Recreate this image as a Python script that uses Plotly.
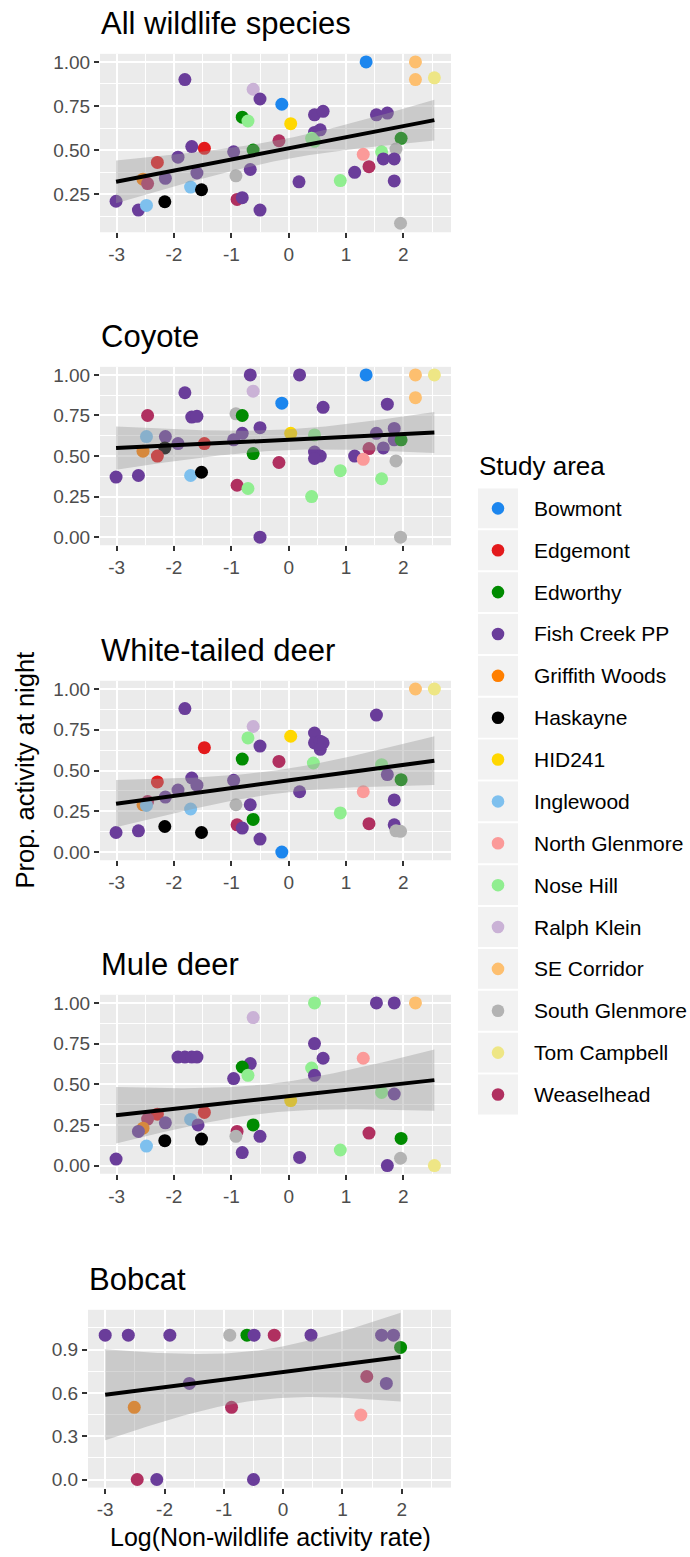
import numpy as np
import plotly.graph_objects as go

# ---------------- data ----------------
site_codes = ["Bow", "Edg", "Edw", "FC", "GW", "Hask", "HID", "Ing", "NG", "NH",
              "RK", "SE", "SG", "TC", "Wea"]
site_names = ["Bowmont", "Edgemont", "Edworthy", "Fish Creek PP", "Griffith Woods",
              "Haskayne", "HID241", "Inglewood", "North Glenmore", "Nose Hill",
              "Ralph Klein", "SE Corridor", "South Glenmore", "Tom Campbell", "Weaselhead"]
site_colors = ["#1C86EE", "#E31A1C", "#008B00", "#6A3D9A", "#FF7F00",
               "#000000", "#FFD700", "#7EC0EE", "#FB9A99", "#90EE90",
               "#CAB2D6", "#FDBF6F", "#B3B3B3", "#EEE685", "#B03060"]

panel_titles = ["All wildlife species", "Coyote", "White-tailed deer", "Mule deer", "Bobcat"]

# All wildlife species
all_x = [-1.81, -0.62, -0.50, -0.12, -0.81, -0.71, 0.035, -1.69, -1.47, -1.93,
         -2.29, -0.96, -0.62, -0.17, -0.67, -0.92, -1.60, -2.15, -2.54, -2.46,
         -1.71, -1.52, 0.18, -3.01, -2.62, -2.48, -2.16, -0.90, -0.81, -0.50,
         1.35, 2.21, 2.21, 2.54, 0.45, 0.60, 1.53, 1.72, 0.45, 0.55,
         0.40, 0.45, 1.96, 1.87, 1.30, 1.62, 1.65, 1.84, 1.40, 1.15,
         0.90, 1.84, 1.95]
all_y = [0.90, 0.845, 0.79, 0.76, 0.687, 0.665, 0.65, 0.52, 0.51, 0.46,
         0.43, 0.49, 0.50, 0.553, 0.39, 0.354, 0.37, 0.34, 0.335, 0.31,
         0.29, 0.275, 0.32, 0.21, 0.16, 0.186, 0.207, 0.22, 0.23, 0.16,
         1.00, 1.00, 0.90, 0.91, 0.70, 0.72, 0.70, 0.71, 0.60, 0.615,
         0.567, 0.55, 0.567, 0.506, 0.476, 0.49, 0.45, 0.45, 0.406, 0.374,
         0.327, 0.325, 0.085]
all_site = ["FC", "RK", "FC", "Bow", "Edw", "NH", "HID", "FC", "Edg", "FC",
            "Edg", "FC", "Edw", "Wea", "FC", "SG", "FC", "FC", "GW", "Wea",
            "Ing", "Hask", "FC", "FC", "FC", "Ing", "Hask", "Wea", "FC", "FC",
            "Bow", "SE", "SE", "TC", "FC", "FC", "FC", "FC", "FC", "FC",
            "NH", "NH", "Edw", "SG", "NG", "NH", "FC", "FC", "Wea", "FC",
            "NH", "FC", "SG"]

# Coyote
coy_x = [-0.67, 0.19, -1.81, -0.62, -0.12, -2.46, -1.69, -1.60, -0.92, -0.81,
         -0.50, -2.48, -2.15, -1.93, -2.16, -0.96, -0.81, -1.47, 0.035, -2.54,
         -2.29, -0.62, -0.17, -3.01, -2.62, -1.71, -1.52, -0.90, -0.71, -0.50,
         1.35, 2.21, 2.54, 2.21, 0.60, 1.72, 0.45, 1.53, 1.84, 1.84,
         1.96, 0.45, 0.55, 0.45, 1.15, 1.40, 1.30, 1.65, 1.87, 0.90,
         1.62, 0.40, 1.95]
coy_y = [1.00, 1.00, 0.89, 0.90, 0.826, 0.75, 0.74, 0.745, 0.76, 0.75,
         0.675, 0.62, 0.62, 0.577, 0.55, 0.60, 0.64, 0.577, 0.64, 0.53,
         0.50, 0.515, 0.46, 0.37, 0.38, 0.38, 0.40, 0.32, 0.30, 0.00,
         1.00, 1.00, 1.00, 0.86, 0.80, 0.82, 0.63, 0.64, 0.67, 0.60,
         0.60, 0.525, 0.50, 0.485, 0.50, 0.546, 0.48, 0.55, 0.47, 0.41,
         0.36, 0.25, 0.00]
coy_site = ["FC", "FC", "FC", "RK", "Bow", "Wea", "FC", "FC", "SG", "Edw",
            "FC", "Ing", "FC", "FC", "Hask", "FC", "FC", "Edg", "HID", "GW",
            "Edg", "Edw", "Wea", "FC", "FC", "Ing", "Hask", "Wea", "NH", "FC",
            "Bow", "SE", "TC", "SE", "FC", "FC", "NH", "FC", "FC", "FC",
            "Edw", "FC", "FC", "FC", "FC", "Wea", "NG", "FC", "SG", "NH",
            "NH", "NH", "SG"]

# White-tailed deer
wtd_x = [-1.81, -0.62, -0.71, -0.50, 0.035, -1.47, -0.81, -0.17, -2.29, -1.69,
         -1.60, -1.93, -2.15, -0.96, -2.46, -2.54, -2.48, -1.71, -0.92, -0.67,
         -0.62, -2.16, -0.90, -0.81, -3.01, -2.62, -1.52, -0.50, -0.12, 2.21,
         2.54, 1.53, 0.45, 0.45, 0.55, 0.60, 0.55, 0.43, 1.62, 1.72,
         1.96, 0.19, 1.30, 1.84, 0.90, 1.40, 1.84, 1.87, 1.95]
wtd_y = [0.88, 0.77, 0.70, 0.65, 0.71, 0.64, 0.57, 0.556, 0.43, 0.454,
         0.41, 0.38, 0.337, 0.44, 0.31, 0.29, 0.286, 0.264, 0.29, 0.29,
         0.20, 0.157, 0.167, 0.147, 0.12, 0.13, 0.12, 0.08, 0.00, 1.00,
         1.00, 0.84, 0.73, 0.67, 0.68, 0.67, 0.63, 0.546, 0.536, 0.475,
         0.444, 0.37, 0.37, 0.32, 0.24, 0.174, 0.167, 0.13, 0.127]
wtd_site = ["FC", "RK", "NH", "FC", "HID", "Edg", "Edw", "Wea", "Edg", "FC",
            "FC", "FC", "FC", "FC", "Wea", "GW", "Ing", "Ing", "SG", "FC",
            "Edw", "Hask", "Wea", "FC", "FC", "FC", "Hask", "FC", "Bow", "SE",
            "TC", "FC", "FC", "FC", "FC", "FC", "FC", "NH", "NH", "FC",
            "Edw", "FC", "NG", "FC", "NH", "Wea", "FC", "SG", "SG"]

# Mule deer
mule_x = [-0.62, -1.93, -1.81, -1.69, -1.60, -0.67, -0.81, -0.71, -0.96, 0.035,
          -1.47, -2.29, -2.46, -1.71, -2.15, -1.58, -0.62, -2.54, -2.62, -0.90,
          -0.92, -0.50, -2.16, -1.52, -2.48, -3.01, -0.81, 0.45, 1.53, 1.84,
          2.21, 0.45, 0.60, 1.30, 0.40, 0.45, 1.62, 1.84, 1.40, 1.96,
          0.90, 0.19, 1.95, 1.72, 2.54]
mule_y = [0.91, 0.667, 0.667, 0.667, 0.667, 0.627, 0.606, 0.555, 0.535, 0.40,
          0.327, 0.316, 0.286, 0.284, 0.263, 0.25, 0.25, 0.23, 0.21, 0.21,
          0.18, 0.18, 0.153, 0.163, 0.12, 0.04, 0.08, 1.00, 1.00, 1.00,
          1.00, 0.75, 0.66, 0.66, 0.60, 0.555, 0.45, 0.44, 0.20, 0.167,
          0.096, 0.05, 0.045, 0.00, 0.00]
mule_site = ["RK", "FC", "FC", "FC", "FC", "FC", "Edw", "NH", "FC", "HID",
             "Edg", "Edg", "Wea", "Ing", "FC", "FC", "Edw", "GW", "FC", "Wea",
             "SG", "FC", "Hask", "Hask", "Ing", "FC", "FC", "NH", "FC", "FC",
             "SE", "FC", "FC", "NG", "NH", "FC", "NH", "FC", "Wea", "Edw",
             "NH", "FC", "SG", "FC", "TC"]

# Bobcat
bob_x = [-3.00, -2.61, -1.91, -0.90, -0.61, -0.49, -0.15, 0.47, 1.66, 1.86,
         1.98, 1.41, 1.74, -1.58, -2.51, -0.87, 1.31, -2.46, -2.13, -0.50]
bob_y = [1.00, 1.00, 1.00, 1.00, 1.00, 1.00, 1.00, 1.00, 1.00, 1.00,
         0.915, 0.714, 0.666, 0.666, 0.50, 0.50, 0.447, 0.00, 0.00, 0.00]
bob_site = ["FC", "FC", "FC", "SG", "Edw", "FC", "Wea", "FC", "FC", "FC",
            "Edw", "Wea", "FC", "FC", "GW", "Wea", "NG", "Wea", "FC", "FC"]

panel_data = [(all_x, all_y, all_site), (coy_x, coy_y, coy_site),
              (wtd_x, wtd_y, wtd_site), (mule_x, mule_y, mule_site),
              (bob_x, bob_y, bob_site)]

x_ticks = [-3, -2, -1, 0, 1, 2]
x_ticklabels = ["-3", "-2", "-1", "0", "1", "2"]
x_minor = [-2.5, -1.5, -0.5, 0.5, 1.5, 2.5]
y_ticks = [[0.25, 0.5, 0.75, 1.0], [0, 0.25, 0.5, 0.75, 1.0], [0, 0.25, 0.5, 0.75, 1.0],
           [0, 0.25, 0.5, 0.75, 1.0], [0, 0.3, 0.6, 0.9]]
y_ticklabels = [["0.25", "0.50", "0.75", "1.00"],
                ["0.00", "0.25", "0.50", "0.75", "1.00"],
                ["0.00", "0.25", "0.50", "0.75", "1.00"],
                ["0.00", "0.25", "0.50", "0.75", "1.00"],
                ["0.0", "0.3", "0.6", "0.9"]]
y_minor = [[0.125, 0.375, 0.625, 0.875], [0.125, 0.375, 0.625, 0.875],
           [0.125, 0.375, 0.625, 0.875], [0.125, 0.375, 0.625, 0.875],
           [0.15, 0.45, 0.75, 1.05]]

# ---------------- layout constants (pixels) ----------------
W, H = 690, 1557
RIGHT = 451
panel_left = [100, 100, 100, 100, 88]
panel_top = [52, 366, 681, 996, 1312]
panel_bot = [231, 545, 861, 1175.5, 1490.4]
y_ranges = [[0.034, 1.046], [-0.05, 1.05], [-0.05, 1.05], [-0.05, 1.05], [-0.056, 1.176]]
X_RANGE = [-3.29, 2.83]

FONT = "Liberation Sans, Arial, sans-serif"
TICK_FONT = dict(family=FONT, size=19, color="#4D4D4D")


def px_x(p):
    return p / W


def px_y(p):
    return 1 - p / H


def t_quantile(df, z=1.959964):
    g1 = (z ** 3 + z) / 4
    g2 = (5 * z ** 5 + 16 * z ** 3 + 3 * z) / 96
    g3 = (3 * z ** 7 + 19 * z ** 5 + 17 * z ** 3 - 15 * z) / 384
    return z + g1 / df + g2 / df ** 2 + g3 / df ** 3


def lm_fit(x, y):
    x = np.asarray(x, float)
    y = np.asarray(y, float)
    n = len(x)
    b, a = np.polyfit(x, y, 1)
    resid = y - (a + b * x)
    s = np.sqrt(np.sum(resid ** 2) / (n - 2))
    xm = x.mean()
    sxx = np.sum((x - xm) ** 2)
    xs = np.linspace(x.min(), x.max(), 80)
    yh = a + b * xs
    se = s * np.sqrt(1 / n + (xs - xm) ** 2 / sxx)
    t = t_quantile(n - 2)
    return xs, yh, yh - t * se, yh + t * se


color_of = dict(zip(site_codes, site_colors))

fig = go.Figure()
annotations = []
shapes = []

for i, (px, py, ps) in enumerate(panel_data):
    assert len(px) == len(py) == len(ps), (i, len(px), len(py), len(ps))
    suf = "" if i == 0 else str(i + 1)
    xref, yref = "x" + suf, "y" + suf

    fig.add_trace(go.Scatter(
        x=px, y=py, mode="markers", xaxis=xref, yaxis=yref,
        marker=dict(size=13, color=[color_of[s] for s in ps], line=dict(width=0)),
        showlegend=False, hoverinfo="skip"))

    xs, yh, lo, hi = lm_fit(px, py)
    fig.add_trace(go.Scatter(
        x=np.concatenate([xs, xs[::-1]]), y=np.concatenate([hi, lo[::-1]]),
        mode="lines", fill="toself", fillcolor="rgba(153,153,153,0.4)",
        line=dict(width=0), xaxis=xref, yaxis=yref, showlegend=False, hoverinfo="skip"))
    fig.add_trace(go.Scatter(
        x=xs, y=yh, mode="lines", line=dict(color="black", width=4),
        xaxis=xref, yaxis=yref, showlegend=False, hoverinfo="skip"))

    common = dict(ticks="outside", ticklen=5, tickwidth=1.5, tickcolor="#333333",
                  showgrid=True, gridcolor="white", gridwidth=2, zeroline=False,
                  showline=False, tickfont=TICK_FONT, tickmode="array")
    fig.update_layout({
        "xaxis" + suf: dict(domain=[px_x(panel_left[i]), px_x(RIGHT)], range=X_RANGE,
                            anchor=yref, tickvals=x_ticks, ticktext=x_ticklabels,
                            minor=dict(tickmode="array", tickvals=x_minor, showgrid=True,
                                       gridcolor="white", gridwidth=1, ticks=""),
                            **common),
        "yaxis" + suf: dict(domain=[px_y(panel_bot[i]), px_y(panel_top[i])], range=y_ranges[i],
                            anchor=xref, tickvals=y_ticks[i], ticktext=y_ticklabels[i],
                            minor=dict(tickmode="array", tickvals=y_minor[i], showgrid=True,
                                       gridcolor="white", gridwidth=1, ticks=""),
                            **common),
    })

    annotations.append(dict(
        text=panel_titles[i], xref="paper", yref="paper", x=px_x(panel_left[i] - 1),
        y=px_y(panel_top[i] - 11), xanchor="left", yanchor="bottom", showarrow=False,
        font=dict(family=FONT, size=31, color="black")))

# axis titles
annotations.append(dict(text="Prop. activity at night", xref="paper", yref="paper",
                        x=px_x(25), y=px_y(771), xanchor="center", yanchor="middle",
                        textangle=-90, showarrow=False,
                        font=dict(family=FONT, size=25.5, color="black")))
annotations.append(dict(text="Log(Non-wildlife activity rate)", xref="paper", yref="paper",
                        x=px_x(270), y=px_y(1556), xanchor="center", yanchor="bottom",
                        showarrow=False, font=dict(family=FONT, size=25, color="black")))

# legend (manual, ggplot style keys)
LEG_X, LEG_TOP, KEY, PITCH = 478, 488, 40, 42
annotations.append(dict(text="Study area", xref="paper", yref="paper",
                        x=px_x(LEG_X - 1), y=px_y(465), xanchor="left", yanchor="middle",
                        showarrow=False, font=dict(family=FONT, size=26, color="black")))
for k, (name, col) in enumerate(zip(site_names, site_colors)):
    top = LEG_TOP + k * PITCH
    shapes.append(dict(type="rect", xref="paper", yref="paper",
                       x0=px_x(LEG_X), x1=px_x(LEG_X + KEY), y0=px_y(top + KEY), y1=px_y(top),
                       fillcolor="#F2F2F2", line=dict(width=0), layer="below"))
    cx, cy, r = LEG_X + KEY / 2, top + KEY / 2, 6.3
    shapes.append(dict(type="circle", xref="paper", yref="paper",
                       x0=px_x(cx - r), x1=px_x(cx + r), y0=px_y(cy + r), y1=px_y(cy - r),
                       fillcolor=col, line=dict(width=0)))
    annotations.append(dict(text=name, xref="paper", yref="paper",
                            x=px_x(LEG_X + KEY + 14), y=px_y(cy), xanchor="left",
                            yanchor="middle", showarrow=False,
                            font=dict(family=FONT, size=21, color="black")))

fig.update_layout(
    width=W, height=H, margin=dict(l=0, r=0, t=0, b=0),
    paper_bgcolor="white", plot_bgcolor="#EBEBEB",
    showlegend=False, annotations=annotations, shapes=shapes,
    font=dict(family=FONT),
)

fig.write_html("out.html")
